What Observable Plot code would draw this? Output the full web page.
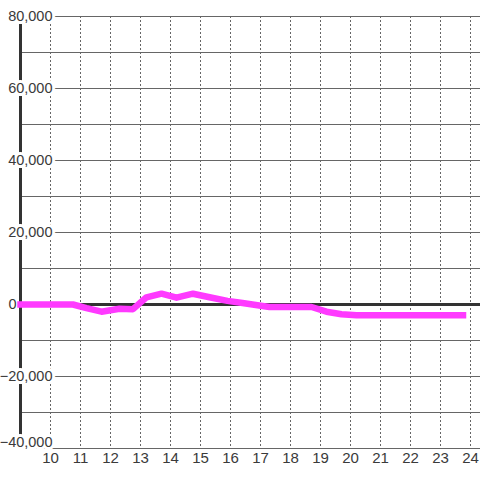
<!DOCTYPE html>
<html>
<head>
<meta charset="utf-8">
<script src="https://cdn.jsdelivr.net/npm/d3@7"></script>
<script src="https://cdn.jsdelivr.net/npm/@observablehq/plot@0.6"></script>
<style>
html,body{margin:0;padding:0;background:#fff;}
</style>
</head>
<body>
<div id="chart"></div>
<script>
const hours  = [9, 10, 10.75, 11.2, 11.7, 12.3, 12.75, 13.2, 13.7, 14.2, 14.75, 15.3, 15.9, 16.4, 16.9, 17.3, 18.7, 19.2, 19.7, 20.2, 23.75];
const values = [0, 0, 0, -1000, -2000, -1200, -1300, 2000, 3000, 1900, 3000, 2000, 1000, 400, -200, -700, -700, -2000, -2700, -3000, -3000];
const xTicks = [10, 11, 12, 13, 14, 15, 16, 17, 18, 19, 20, 21, 22, 23, 24];
const yGrid  = [-40000, -30000, -20000, -10000, 0, 10000, 20000, 30000, 40000, 50000, 60000, 70000, 80000];
const yLabels = [80000, 60000, 40000, 20000, -20000];
const yLabelZero = [0];
const yLabelBottom = [-40000];

const data = hours.map((h, i) => ({h, v: values[i]}));
const fmt = d3.format(",");
const labelStyle = {frameAnchor: "left", textAnchor: "end", fontSize: 14.5, fill: "#3a3a3a"};

const chart = Plot.plot({
  width: 480,
  height: 480,
  marginLeft: 20,
  marginRight: 0,
  marginTop: 16,
  marginBottom: 32,
  x: {domain: [9, 24.333], axis: null},
  y: {domain: [-40000, 80000], axis: null},
  style: {background: "white", fontFamily: "'Liberation Sans', Arial, sans-serif"},
  marks: [
    Plot.ruleY(yGrid, {stroke: "#666", strokeWidth: 1}),
    Plot.ruleX(xTicks, {stroke: "#666", strokeDasharray: "2,2"}),
    Plot.ruleY([0], {stroke: "#333", strokeWidth: 3}),
    Plot.ruleX([9], {stroke: "#333", strokeWidth: 3}),
    Plot.text(yLabels, {...labelStyle, y: d => d, text: d => fmt(d), dx: 32, stroke: "white", strokeWidth: 6, paintOrder: "stroke"}),
    Plot.text(yLabelBottom, {...labelStyle, y: d => d, text: d => fmt(d), dx: 32, dy: -6, stroke: "white", strokeWidth: 6, paintOrder: "stroke"}),
    Plot.text(yLabelZero, {...labelStyle, y: d => d, text: d => fmt(d), dx: -4}),
    Plot.line(data, {x: "h", y: "v", stroke: "#ff3aff", strokeWidth: 6.5, strokeLinejoin: "round", strokeLinecap: "square"}),
    Plot.text(xTicks, {x: d => d, text: d => String(d), frameAnchor: "bottom", dy: 14, fontSize: 15, fill: "#3a3a3a"})
  ]
});
document.getElementById("chart").appendChild(chart);
</script>
</body>
</html>
